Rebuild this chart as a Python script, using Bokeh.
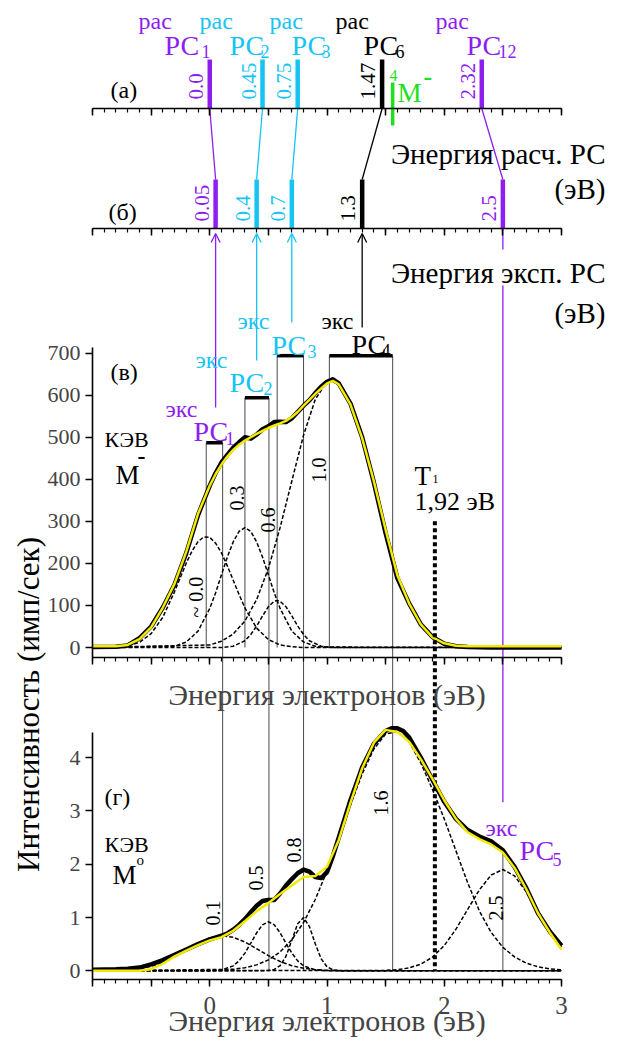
from math import pi
from bokeh.plotting import figure
from bokeh.models import (Range1d, LinearAxis, FixedTicker, CustomJSTickFormatter,
                          Label, Arrow, OpenHead, ColumnDataSource)
from bokeh.core.properties import value
from bokeh.embed import file_html
from bokeh.resources import INLINE

# ---------------- data ----------------
# (а) calculated resonance states (eV)
CALC_X = [0.0, 0.45, 0.75, 1.47, 2.32]
CALC_LABELS = ["0.0", "0.45", "0.75", "1.47", "2.32"]
CALC_SUBS = ["1", "2", "3", "6", "12"]
M_MINUS_LEVEL = 1.56
# (б) experimental resonance states (eV)
EXP_X = [0.05, 0.4, 0.7, 1.3, 2.5]
EXP_LABELS = ["0.05", "0.4", "0.7", "1.3", "2.5"]

# (в) M- spectrum (counts/s)
MN_X = [-1.0, -0.8, -0.7, -0.6, -0.5, -0.4, -0.3, -0.2, -0.1, 0.0, 0.05, 0.1, 0.15, 0.2,
        0.25, 0.3, 0.35, 0.4, 0.45, 0.5, 0.55, 0.6, 0.65, 0.7, 0.75, 0.8, 0.85, 0.9, 0.95,
        1.0, 1.05, 1.1, 1.2, 1.3, 1.4, 1.5, 1.6, 1.7, 1.8, 1.9, 2.0, 2.1, 2.2, 2.4, 3.0]
MN_EXP = [1, 2, 5, 22, 50, 95, 150, 225, 315, 385, 415, 440, 458, 475, 488, 500, 497, 506,
          519, 526, 536, 537, 536, 545, 560, 575, 588, 605, 620, 632, 638, 628, 580, 500,
          392, 272, 165, 105, 55, 25, 9, 3, 1, 0, 0]
MN_FIT = [3, 3, 6, 20, 48, 95, 152, 228, 318, 385, 412, 435, 454, 470, 482, 492, 500, 508,
          515, 522, 528, 533, 539, 548, 560, 575, 589, 603, 616, 628, 634, 626, 578, 498,
          395, 280, 172, 105, 55, 24, 10, 4, 3, 3, 3]
# components of the M- fit
V1_X = [-1.0, -0.8, -0.7, -0.6, -0.5, -0.4, -0.3, -0.25, -0.2, -0.15, -0.1, -0.05, 0.0, 0.05,
        0.1, 0.15, 0.2, 0.25, 0.3, 0.4, 0.5, 0.6, 0.7, 0.8, 3.0]
V1_Y = [0, 1, 4, 12, 33, 72, 133, 167, 201, 230, 252, 263, 262, 248, 225, 194, 160, 126, 94,
        46, 19, 6, 2, 0, 0]
V2_X = [-1.0, -0.3, -0.2, -0.1, 0.0, 0.05, 0.1, 0.15, 0.2, 0.25, 0.3, 0.35, 0.4, 0.45, 0.5,
        0.55, 0.6, 0.7, 0.8, 0.9, 1.0, 3.0]
V2_Y = [0, 3, 13, 39, 93, 130, 173, 215, 251, 276, 285, 276, 251, 215, 173, 130, 93, 39, 13,
        3, 1, 0]
V3_X = [-1.0, 0.1, 0.2, 0.3, 0.35, 0.4, 0.45, 0.5, 0.55, 0.575, 0.6, 0.65, 0.7, 0.75, 0.8,
        0.85, 0.95, 1.05, 3.0]
V3_Y = [0, 0, 3, 16, 31, 51, 75, 97, 110, 112, 110, 97, 75, 51, 31, 16, 3, 0, 0]
V4_X = [-1.0, 0.0, 0.1, 0.2, 0.3, 0.4, 0.5, 0.6, 0.7, 0.8, 0.9, 1.0, 1.03, 1.1, 1.2, 1.3, 1.4,
        1.5, 1.6, 1.7, 1.8, 1.9, 2.0, 2.1, 2.2, 2.3, 3.0]
V4_Y = [0, 6, 15, 32, 63, 114, 188, 285, 396, 505, 590, 632, 635, 625, 576, 496, 388, 270,
        165, 102, 54, 25, 10, 4, 1.5, 0, 0]
V_COMP_LABELS = ["~ 0.0", "0.3", "0.6", "1.0"]
# boxes marking PC1..PC4 in (в)
BOX_LEFT = [-0.03, 0.30, 0.575, 1.02]
BOX_RIGHT = [0.11, 0.505, 0.80, 1.56]
BOX_TOP = [487, 594, 694, 694]
T1_ENERGY = 1.92
T1_TOP = 300

# (г) M0 spectrum
M0_X = [-1.0, -0.8, -0.7, -0.6, -0.5, -0.4, -0.3, -0.2, -0.1, 0.0, 0.1, 0.15, 0.2, 0.25, 0.3,
        0.35, 0.4, 0.45, 0.5, 0.55, 0.6, 0.65, 0.7, 0.75, 0.8, 0.85, 0.9, 0.95, 1.0, 1.05,
        1.1, 1.2, 1.3, 1.4, 1.5, 1.55, 1.6, 1.65, 1.7, 1.8, 1.9, 2.0, 2.1, 2.2, 2.3, 2.4, 2.5,
        2.6, 2.7, 2.8, 2.9, 3.0]
M0_EXP = [0.02, 0.03, 0.04, 0.06, 0.12, 0.2, 0.3, 0.4, 0.5, 0.59, 0.66, 0.7, 0.77, 0.86, 0.97,
          1.1, 1.22, 1.31, 1.33, 1.33, 1.45, 1.6, 1.72, 1.83, 1.9, 1.86, 1.76, 1.74, 1.85,
          2.15, 2.5, 3.2, 3.82, 4.26, 4.5, 4.55, 4.55, 4.5, 4.38, 4.0, 3.58, 3.17, 2.85, 2.64,
          2.52, 2.43, 2.26, 1.95, 1.55, 1.08, 0.74, 0.47]
M0_FIT_X = [-1.0, -0.8, -0.6, -0.5, -0.4, -0.3, -0.2, -0.1, 0.0, 0.1, 0.2, 0.3, 0.4, 0.5, 0.6,
            0.7, 0.8, 0.9, 1.0, 1.1, 1.2, 1.3, 1.4, 1.5, 1.6, 1.7, 1.8, 1.9, 2.0, 2.1, 2.2,
            2.3, 2.4, 2.5, 2.6, 2.7, 2.8, 2.9, 3.0]
M0_FIT = [0.0, 0.0, 0.0, 0.03, 0.13, 0.27, 0.38, 0.48, 0.57, 0.63, 0.75, 0.93, 1.12, 1.27,
          1.44, 1.6, 1.76, 1.78, 1.95, 2.45, 3.15, 3.8, 4.28, 4.52, 4.48, 4.3, 3.97, 3.6, 3.2,
          2.85, 2.6, 2.47, 2.37, 2.22, 1.93, 1.53, 1.08, 0.72, 0.4]
G1_X = [-1.0, -0.8, -0.7, -0.6, -0.5, -0.4, -0.3, -0.2, -0.1, 0.0, 0.1, 0.2, 0.3, 0.4, 0.5,
        0.6, 0.7, 0.8, 0.9, 1.0, 1.1, 3.0]
G1_Y = [0.002, 0.007, 0.017, 0.04, 0.084, 0.156, 0.26, 0.387, 0.517, 0.617, 0.66, 0.63, 0.54,
        0.414, 0.284, 0.174, 0.095, 0.047, 0.021, 0.008, 0.003, 0]
G2_X = [-1.0, 0.0, 0.1, 0.2, 0.25, 0.3, 0.35, 0.4, 0.45, 0.5, 0.55, 0.6, 0.65, 0.7, 0.75, 0.8,
        0.9, 1.0, 3.0]
G2_Y = [0, 0.002, 0.015, 0.093, 0.187, 0.332, 0.518, 0.713, 0.863, 0.92, 0.863, 0.713, 0.518,
        0.332, 0.187, 0.093, 0.015, 0.002, 0]
G3_X = [-1.0, 0.45, 0.5, 0.55, 0.6, 0.65, 0.7, 0.75, 0.8, 0.85, 0.9, 0.95, 1.0, 1.05, 1.1,
        1.2, 3.0]
G3_Y = [0, 0.001, 0.005, 0.025, 0.095, 0.273, 0.573, 0.882, 1.0, 0.83, 0.506, 0.227, 0.075,
        0.018, 0.003, 0, 0]
G4_X = [-1.0, 0.2, 0.3, 0.4, 0.5, 0.6, 0.7, 0.8, 0.9, 1.0, 1.1, 1.2, 1.3, 1.4, 1.5, 1.6, 1.7,
        1.8, 1.9, 2.0, 2.1, 2.2, 2.3, 2.4, 2.5, 2.6, 2.7, 2.8, 2.9, 3.0]
G4_Y = [0, 0.028, 0.058, 0.111, 0.204, 0.354, 0.582, 0.906, 1.338, 1.87, 2.477, 3.109, 3.695,
        4.162, 4.441, 4.49, 4.299, 3.9, 3.4, 2.85, 2.25, 1.65, 1.12, 0.72, 0.44, 0.26, 0.143,
        0.075, 0.038, 0.018]
G5_X = [-1.0, 1.5, 1.6, 1.7, 1.8, 1.9, 2.0, 2.1, 2.2, 2.3, 2.4, 2.5, 2.6, 2.7, 2.8, 2.9, 3.0]
G5_Y = [0, 0.007, 0.021, 0.054, 0.125, 0.257, 0.474, 0.781, 1.153, 1.52, 1.797, 1.9, 1.78,
        1.48, 1.05, 0.72, 0.45]
G_COMP_LABELS = ["0.1", "0.5", "0.8", "1.6", "2.5"]
Y_TICKS_V = [0, 100, 200, 300, 400, 500, 600, 700]
Y_TICKS_G = [0, 1, 2, 3, 4]

# ---------------- style / layout ----------------
FONT = "'Liberation Serif', 'DejaVu Serif', serif"
PURPLE = "#8e1ef0"
CYAN = "#16c4f4"
GREEN = "#1fe01f"
YELLOW = "#f2ea00"
THIN = "#4a4a4a"

W, H = 606, 1039
XMIN, XMAX = -1.0, 3.0
FL, FR = 100, 569          # page x of XMIN / XMAX
FT, FB = 8, 1047           # page y of canvas top / bottom
PXU = (FR - FL) / (XMAX - XMIN)
V0, VPX = 655.0, 0.4205    # panel (в): page y of zero, px per count
G0, GPX = 978.3, 53.3      # panel (г)


def X(px):
    return XMIN + (px - FL) / PXU


def v2page(v):
    return V0 - VPX * v


def page2g(py):
    return (G0 - py) / GPX


def g2page(g):
    return G0 - GPX * g


p = figure(width=W, height=H, x_range=Range1d(X(8), X(8 + W)), y_range=Range1d(FB, FT),
           output_backend="svg", toolbar_location=None,
           x_axis_location=None, y_axis_location=None,
           min_border_left=0, min_border_right=0, min_border_top=0, min_border_bottom=0)
p.outline_line_color = None
p.grid.visible = False
p.background_fill_color = "white"
p.extra_y_ranges = {
    "v": Range1d((V0 - FB) / VPX, (V0 - FT) / VPX),
    "g": Range1d((G0 - FB) / GPX, (G0 - FT) / GPX),
}

MAJOR = [XMIN + 0.5 * i for i in range(9)]
MINOR = [round(XMIN + 0.1 * i, 2) for i in range(41)]


def h_axis(loc, fmt_code, label=None, standoff=0, tick_standoff=4):
    ax = LinearAxis(fixed_location=loc, bounds=(XMIN, XMAX),
                    ticker=FixedTicker(ticks=MAJOR, minor_ticks=MINOR),
                    formatter=CustomJSTickFormatter(code=fmt_code),
                    axis_line_width=1.6, axis_line_color="black",
                    major_tick_out=7, major_tick_in=0, major_tick_line_width=1.5,
                    minor_tick_out=4, minor_tick_in=0, minor_tick_line_width=1.2,
                    major_label_text_font=FONT, major_label_text_font_size="25px",
                    major_label_standoff=tick_standoff)
    if label:
        ax.axis_label = label
        ax.axis_label_text_font = FONT
        ax.axis_label_text_font_size = "30px"
        ax.axis_label_text_font_style = "normal"
        ax.axis_label_standoff = standoff
    p.add_layout(ax, "below")
    return ax


EMPTY = "return '';"
INTS = "return (Math.abs(tick - Math.round(tick)) < 1e-9 && tick > -0.5) ? String(Math.round(tick)) : '';"
h_axis(116, EMPTY)
h_axis(236, EMPTY)
h_axis(665, EMPTY, "Энергия электронов (эВ)", 13)
h_axis(987, INTS, "Энергия электронов (эВ)", -13, tick_standoff=10)


def v_axis(rng, bounds, ticks):
    ax = LinearAxis(y_range_name=rng, fixed_location=XMIN, bounds=bounds,
                    ticker=FixedTicker(ticks=ticks, minor_ticks=[]),
                    axis_line_width=1.6, axis_line_color="black",
                    major_tick_out=7, major_tick_in=0,
                    major_tick_line_width=1.5, minor_tick_out=0, minor_tick_in=0,
                    major_label_text_font=FONT, major_label_text_font_size="22px",
                    major_label_standoff=5)
    p.add_layout(ax, "left")


v_axis("v", (-24, 714), Y_TICKS_V)
v_axis("g", (-0.163, 4.47), Y_TICKS_G)

# ---------------- strips (а) and (б) ----------------
calc_colors = [PURPLE, CYAN, CYAN, "black", PURPLE]
exp_colors = [PURPLE, CYAN, CYAN, "black", PURPLE]
n = len(CALC_X)
src = ColumnDataSource(dict(cx=CALC_X, ex=EXP_X, cc=calc_colors, ec=exp_colors,
                            cl=CALC_LABELS, el=EXP_LABELS,
                            a_top=[67] * n, a_bot=[116] * n, b_top=[187] * n, b_bot=[236] * n,
                            a_lab=[107] * n, b_lab=[229] * n))
p.segment(x0="cx", y0="a_bot", x1="ex", y1="b_top", line_color="cc", line_width=1.3, source=src)
p.segment(x0="cx", y0="a_bot", x1="cx", y1="a_top", line_color="cc", line_width=4.5, source=src)
p.segment(x0="ex", y0="b_bot", x1="ex", y1="b_top", line_color="ec", line_width=4.5, source=src)
p.segment(x0=[M_MINUS_LEVEL], y0=[133], x1=[M_MINUS_LEVEL], y1=[90], line_color=GREEN,
          line_width=3.5)
p.text(x="cx", y="a_lab", text="cl", angle=pi / 2, x_offset=-14, text_color="cc",
       text_font=value(FONT), text_font_size="21px", text_align="left",
       text_baseline="middle", source=src)
p.text(x="ex", y="b_lab", text="el", angle=pi / 2, x_offset=-14, text_color="ec",
       text_font=value(FONT), text_font_size="21px", text_align="left",
       text_baseline="middle", source=src)

# arrows from (б) down to the spectra
arrow_start = [415, 368, 330, 335]
for i in range(4):
    p.add_layout(Arrow(end=OpenHead(size=9, line_width=1.3, line_color=exp_colors[i]),
                       x_start=EXP_X[i], y_start=arrow_start[i], x_end=EXP_X[i], y_end=241,
                       line_color=exp_colors[i], line_width=1.3))
# PC5 line down to panel (г)
p.segment(x0=[EXP_X[4], EXP_X[4]], y0=[236, 293], x1=[EXP_X[4], EXP_X[4]],
          y1=[257, g2page(3.16)], line_color=PURPLE, line_width=1.3)

# ---------------- panel (в) ----------------
p.segment(x0=BOX_LEFT, y0=BOX_TOP, x1=BOX_LEFT, y1=[0] * 4, y_range_name="v",
          line_color=THIN, line_width=1)
p.segment(x0=BOX_RIGHT, y0=[page2g(v2page(t)) for t in BOX_TOP], x1=BOX_RIGHT, y1=[0] * 4,
          y_range_name="g", line_color=THIN, line_width=1)
p.segment(x0=BOX_LEFT, y0=BOX_TOP, x1=BOX_RIGHT, y1=BOX_TOP, y_range_name="v",
          line_color="black", line_width=3.5)
for xs, ys in [(V1_X, V1_Y), (V2_X, V2_Y), (V3_X, V3_Y), (V4_X, V4_Y)]:
    p.line(xs, ys, y_range_name="v", line_color="black", line_width=1.5, line_dash="4 2")
p.line(MN_X, MN_EXP, y_range_name="v", line_color="black", line_width=4.5, line_join="round")
p.line(MN_X, MN_FIT, y_range_name="v", line_color=YELLOW, line_width=2.5, line_join="round")

# T1 threshold
p.segment(x0=[T1_ENERGY], y0=[page2g(v2page(T1_TOP))], x1=[T1_ENERGY], y1=[0],
          y_range_name="g", line_color="black", line_width=4, line_dash="4 3")

# ---------------- panel (г) ----------------
i25 = M0_X.index(EXP_X[4])
p.segment(x0=[EXP_X[4]], y0=[M0_EXP[i25]], x1=[EXP_X[4]], y1=[0], y_range_name="g",
          line_color=THIN, line_width=1)
for xs, ys in [(G1_X, G1_Y), (G2_X, G2_Y), (G3_X, G3_Y), (G4_X, G4_Y), (G5_X, G5_Y)]:
    p.line(xs, ys, y_range_name="g", line_color="black", line_width=1.5, line_dash="4 2")
p.line(M0_X, M0_EXP, y_range_name="g", line_color="black", line_width=4.5, line_join="round")
p.line(M0_FIT_X, M0_FIT, y_range_name="g", line_color=YELLOW, line_width=2.5,
       line_join="round")


# ---------------- texts ----------------
def lab(px, py, text, size, color="black", align="left", angle=0.0, bold=False,
        baseline="alphabetic"):
    p.add_layout(Label(x=X(px), y=py, text=text, text_font=FONT,
                       text_font_size=f"{size}px", text_color=color, text_align=align,
                       text_baseline=baseline, angle=angle,
                       text_font_style="bold" if bold else "normal"))


# top labels "рас РС_n"
top_pos = [(146, 172, 209), (207, 237, 268), (277, 299, 329), (343, 371, 403), (443, 474, 506)]
for (xr, xp, xs), c, sub in zip(top_pos, calc_colors, CALC_SUBS):
    lab(xr, 28, "рас", 24, c)
    lab(xp, 53, "РС", 28, c)
    lab(xs, 59, sub, 18, c)
lab(397, 83, "4", 16, GREEN)
lab(405, 100, "М", 27, GREEN)
lab(431, 84, "-", 26, GREEN, bold=True)

lab(118, 97, "(а)", 24)
lab(116, 219, "(б)", 24)
lab(118, 379, "(в)", 24)
lab(112, 804, "(г)", 24)

lab(613, 161, "Энергия расч. РС", 29, align="right")
lab(613, 196, "(эВ)", 29, align="right")
lab(613, 280, "Энергия эксп. РС", 29, align="right")
lab(613, 320, "(эВ)", 29, align="right")

# experimental RS labels
exp_lab = [(173, 416, 201, 439, 233, 446, "1", PURPLE),
           (203, 367, 237, 390, 271, 396, "2", CYAN),
           (245, 328, 279, 353, 315, 359, "3", CYAN),
           (329, 328, 359, 352, 389, 358, "4", "black"),
           (493, 835, 527, 858, 560, 867, "5", PURPLE)]
for xe, ye, xp, yp, xs, ys, sub, c in exp_lab:
    lab(xe, ye, "экс", 24, c)
    lab(xp, yp, "РС", 28, c)
    lab(xs, ys, sub, 18, c)

lab(112, 447, "КЭВ", 22)
lab(123, 482, "М", 27)
lab(145, 464, "-", 24, bold=True)
lab(112, 852, "КЭВ", 22)
lab(120, 882, "М", 27)
lab(144, 867, "o", 15)

lab(422, 483, "Т", 27)
lab(440, 486, "1", 12)
lab(422, 509, "1,92 эВ", 26)

for (px, py), t in zip([(210, 625), (251, 518), (282, 540), (333, 490)], V_COMP_LABELS):
    lab(px - 7, py, t, 20, angle=pi / 2, baseline="middle")
for (px, py), t in zip([(227, 933), (270, 898), (308, 870), (395, 823), (510, 928)],
                       G_COMP_LABELS):
    lab(px - 7, py, t, 20, angle=pi / 2, baseline="middle")

lab(36, 712, "Интенсивность (имп/сек)", 31, align="center", angle=pi / 2, baseline="middle")

open("out.html", "w").write(file_html(p, INLINE))
